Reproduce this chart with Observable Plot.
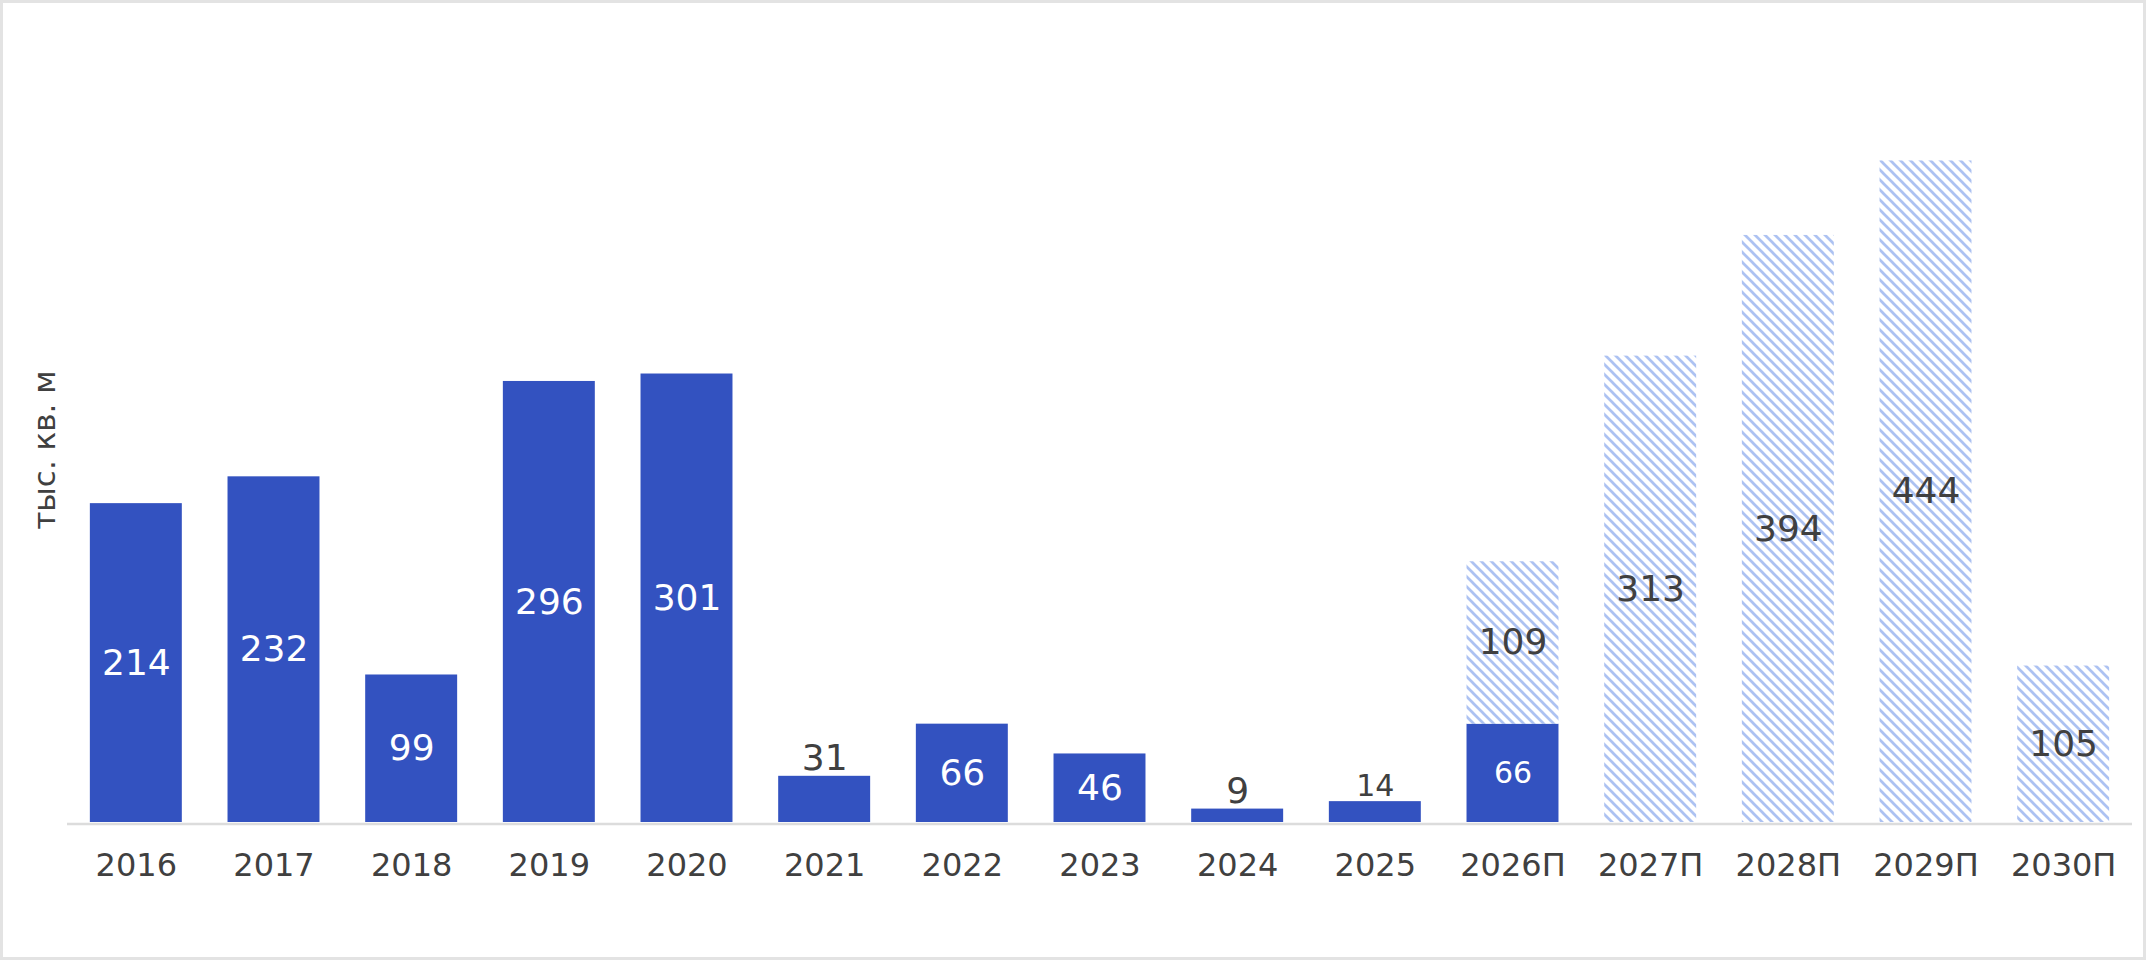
<!DOCTYPE html>
<html>
<head>
<meta charset="utf-8">
<script src="https://cdn.jsdelivr.net/npm/d3@7"></script>
<script src="https://cdn.jsdelivr.net/npm/@observablehq/plot@0.6"></script>
<style>
  html, body { margin: 0; padding: 0; background: #fff; overflow: hidden; }
  #chart { width: 2146px; height: 960px; box-sizing: border-box; border: 3px solid #e3e3e3; background: #fff; }
  #chart svg { display: block; }
</style>
</head>
<body>
<div id="chart"></div>
<script>
const years = ["2016","2017","2018","2019","2020","2021","2022","2023","2024","2025","2026П","2027П","2028П","2029П","2030П"];
const actual = [214, 232, 99, 296, 301, 31, 66, 46, 9, 14, 66, 0, 0, 0, 0];
const forecast = [0, 0, 0, 0, 0, 0, 0, 0, 0, 0, 109, 313, 394, 444, 105];
const yLabel = "тыс. кв. м";

const solidRows = years.map((y, i) => ({year: y, y1: 0, y2: actual[i], value: actual[i]})).filter(d => d.value > 0);
const hatchRows = years.map((y, i) => ({year: y, y1: actual[i], y2: actual[i] + forecast[i], value: forecast[i]})).filter(d => d.value > 0);

const smallBar = d => d.value < 40;
const smallFont = d => (d.year === "2025" || d.year === "2026П") ? 30 : 36;

const textColor = "#404040";
const barColor = "#3352c0";

const chart = Plot.plot({
  width: 2140,
  height: 954,
  marginLeft: 64,
  marginRight: 11,
  marginTop: 74,
  marginBottom: 135,
  style: {fontFamily: "DejaVu Sans", fontSize: "31px", color: textColor, background: "#fff"},
  x: {type: "band", domain: years, paddingInner: 0.332, paddingOuter: 0.166, align: 0.5, round: false, label: null},
  y: {domain: [0, 500], axis: null, label: null},
  marks: [
    Plot.barY(solidRows, {x: "year", y1: "y1", y2: "y2", fill: barColor}),
    Plot.barY(hatchRows, {x: "year", y1: "y1", y2: "y2", fill: "url(#hatch)"}),
    Plot.ruleY([0], {stroke: "#dcdcdc", strokeWidth: 2.5, dy: 1.5}),
    Plot.text(solidRows.filter(d => !smallBar(d)), {
      x: "year", y: d => (d.y1 + d.y2) / 2, text: d => String(d.value),
      fill: "#fff", fontSize: smallFont, textAnchor: "middle", lineAnchor: "middle"
    }),
    Plot.text(solidRows.filter(smallBar), {
      x: "year", y: "y2", text: d => String(d.value),
      fill: textColor, fontSize: smallFont, textAnchor: "middle", lineAnchor: "bottom", dy: -6
    }),
    Plot.text(hatchRows, {
      x: "year", y: d => (d.y1 + d.y2) / 2, text: d => String(d.value),
      fill: textColor, fontSize: 36, textAnchor: "middle", lineAnchor: "middle"
    }),
    Plot.axisX({tickSize: 0, tickPadding: 31, fontSize: 32, fill: textColor, label: null}),
    Plot.text([yLabel], {
      text: d => d, frameAnchor: "left", rotate: -90, dx: -22,
      fontSize: 31, fill: textColor, textAnchor: "middle", lineAnchor: "middle"
    })
  ]
});

d3.select(chart).insert("defs", ":first-child").html(
  '<pattern id="hatch" patternUnits="userSpaceOnUse" width="10" height="10">' +
  '<rect width="10" height="10" fill="#ffffff"/>' +
  '<path d="M-2,-2 L12,12 M-2,8 L2,12 M8,-2 L12,2" stroke="#adc2f2" stroke-width="2.7"/>' +
  '</pattern>'
);

document.getElementById("chart").appendChild(chart);
</script>
</body>
</html>
